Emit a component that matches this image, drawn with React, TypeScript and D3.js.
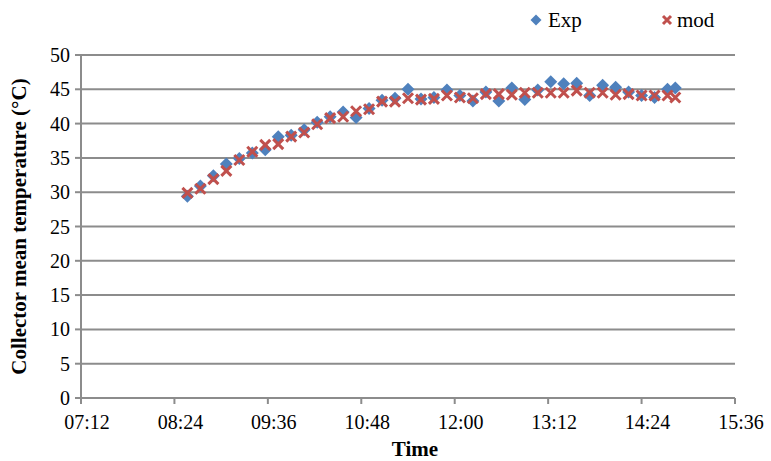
import React from "react";
import * as d3 from "d3";

// Measurement times (hh:mm)
const times = [
  "08:34", "08:44", "08:54", "09:04", "09:14", "09:24", "09:34", "09:44", "09:54", "10:04",
  "10:14", "10:24", "10:34", "10:44", "10:54", "11:04", "11:14", "11:24", "11:34", "11:44",
  "11:54", "12:04", "12:14", "12:24", "12:34", "12:44", "12:54", "13:04", "13:14", "13:24",
  "13:34", "13:44", "13:54", "14:04", "14:14", "14:24", "14:34", "14:44", "14:50",
];

// Experimental collector mean temperature (°C)
const expValues = [
  29.4, 30.9, 32.4, 34.1, 34.9, 35.7, 36.2, 38.1, 38.3, 39.1,
  40.2, 41.0, 41.7, 40.9, 42.2, 43.4, 43.7, 45.0, 43.6, 43.8,
  44.9, 44.1, 43.3, 44.6, 43.3, 45.2, 43.5, 44.9, 46.1, 45.8,
  45.9, 44.1, 45.6, 45.3, 44.6, 44.1, 43.8, 45.0, 45.2,
];

// Model collector mean temperature (°C)
const modValues = [
  29.9, 30.5, 31.9, 33.1, 34.7, 35.9, 36.9, 37.0, 38.1, 38.7,
  39.9, 40.8, 41.0, 41.8, 42.1, 43.2, 43.2, 43.7, 43.5, 43.6,
  44.1, 43.8, 43.7, 44.3, 44.3, 44.2, 44.5, 44.5, 44.5, 44.5,
  44.8, 44.5, 44.5, 44.2, 44.3, 44.1, 44.1, 44.1, 43.8,
];

const xTickLabels = ["07:12", "08:24", "09:36", "10:48", "12:00", "13:12", "14:24", "15:36"];
const yTicks = [0, 5, 10, 15, 20, 25, 30, 35, 40, 45, 50];

const seriesNames = ["Exp", "mod"];
const seriesColors = ["#4F81BD", "#C0504D"];

const W = 771;
const H = 461;
const M = { left: 81, right: 36, top: 55, bottom: 63 };

const parse = (s: string) => d3.timeParse("%H:%M")(s) as Date;

export default function App() {
  const x = d3
    .scaleTime()
    .domain([parse(xTickLabels[0]), parse(xTickLabels[xTickLabels.length - 1])])
    .range([M.left, W - M.right]);
  const y = d3.scaleLinear().domain([0, 50]).range([H - M.bottom, M.top]);

  const gridColor = "#8C8C8C";
  const textStyle = { fontFamily: '"Liberation Serif"' };

  const diamond = (cx: number, cy: number, r: number) =>
    `M${cx},${cy - r}L${cx + r},${cy}L${cx},${cy + r}L${cx - r},${cy}Z`;
  const cross = (cx: number, cy: number, r: number) =>
    `M${cx - r},${cy - r}L${cx + r},${cy + r}M${cx + r},${cy - r}L${cx - r},${cy + r}`;

  const [x0, x1] = x.range();
  const yBase = y(0);

  return (
    <svg width={W} height={H} style={{ position: "absolute", left: 0, top: 0, background: "#fff" }}>
      {/* horizontal gridlines */}
      {yTicks.map((t) => (
        <line key={`g${t}`} x1={x0} x2={x1} y1={y(t)} y2={y(t)} stroke={gridColor} strokeWidth={2} />
      ))}
      {/* y axis */}
      <line x1={x0} x2={x0} y1={y(50)} y2={yBase} stroke={gridColor} strokeWidth={2} />
      {yTicks.map((t) => (
        <g key={`yt${t}`}>
          <line x1={x0 - 6} x2={x0} y1={y(t)} y2={y(t)} stroke={gridColor} strokeWidth={2} />
          <text style={textStyle} x={x0 - 11} y={y(t)} dy="0.35em" textAnchor="end" fontSize={20} fill="#000">
            {t}
          </text>
        </g>
      ))}
      {/* x axis ticks */}
      {xTickLabels.map((s) => {
        const px = x(parse(s));
        return (
          <g key={`xt${s}`}>
            <line x1={px} x2={px} y1={yBase} y2={yBase + 6} stroke={gridColor} strokeWidth={2} />
            <text style={textStyle} x={px + 6} y={yBase + 31} textAnchor="middle" fontSize={20} fill="#000">
              {s}
            </text>
          </g>
        );
      })}
      {/* axis titles */}
      <text style={textStyle} x={415} y={456} textAnchor="middle" fontSize={21} fontWeight="bold" fill="#000">
        Time
      </text>
      <text
        style={textStyle}
        transform={`translate(26, ${(y(0) + y(50)) / 2}) rotate(-90)`}
        textAnchor="middle"
        fontSize={21}
        fontWeight="bold"
        fill="#000"
      >
        Collector mean temperature (°C)
      </text>
      {/* Exp markers */}
      {times.map((t, i) => (
        <path
          key={`e${i}`}
          d={diamond(x(parse(t)), y(expValues[i]), 6.5)}
          fill={seriesColors[0]}
        />
      ))}
      {/* mod markers */}
      {times.map((t, i) => (
        <path
          key={`m${i}`}
          d={cross(x(parse(t)), y(modValues[i]), 5)}
          stroke={seriesColors[1]}
          strokeWidth={3}
          fill="none"
        />
      ))}
      {/* legend */}
      <path d={diamond(536, 20, 5.5)} fill={seriesColors[0]} />
      <text style={textStyle} x={548} y={27} fontSize={21} fill="#000">
        {seriesNames[0]}
      </text>
      <path d={cross(667, 20, 4)} stroke={seriesColors[1]} strokeWidth={3} fill="none" />
      <text style={textStyle} x={677} y={27} fontSize={21} fill="#000">
        {seriesNames[1]}
      </text>
    </svg>
  );
}
